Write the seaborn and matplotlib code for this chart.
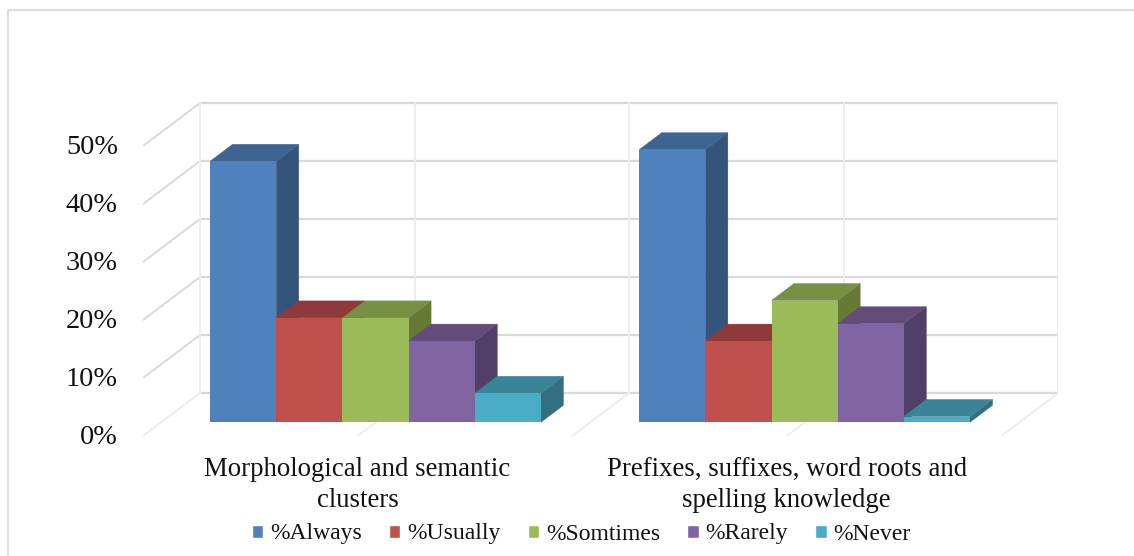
import matplotlib
matplotlib.use("Agg")
import matplotlib.pyplot as plt
from matplotlib.lines import Line2D
from matplotlib.patches import Polygon
import pandas as pd
import seaborn as sns

# Survey responses, in percent
categories = ["Morphological and semantic\nclusters",
              "Prefixes, suffixes, word roots and\nspelling knowledge"]
series_names = ["%Always", "%Usually", "%Somtimes", "%Rarely", "%Never"]
always = [45, 47]
usually = [18, 14]
sometimes = [18, 21]
rarely = [14, 17]
never = [5, 1]
tick_values = [0, 10, 20, 30, 40, 50]
tick_labels = ["0%", "10%", "20%", "30%", "40%", "50%"]

front_colors = ["#4F81BD", "#C0504D", "#9BBB59", "#8064A2", "#4BACC6"]
top_colors = ["#3E6491", "#8F3A3A", "#779043", "#634C7A", "#3A8498"]
side_colors = ["#34547C", "#8F3A3A", "#667A36", "#523F68", "#326F80"]

W, H = 1134, 556
DPI = 100

sns.set_style("white")
plt.rcParams["font.family"] = ["Liberation Serif", "DejaVu Serif"]

fig = plt.figure(figsize=(W / DPI, H / DPI), dpi=DPI, facecolor="white")

# Pixel layout of the axes; one data unit on y is one percentage point
left_px, right_px, top_px, bottom_px = 143, 1058, 90, 436
ax = fig.add_axes([left_px / W, 1 - bottom_px / H,
                   (right_px - left_px) / W, (bottom_px - top_px) / H])
ax.set_facecolor("none")

group_gap_px = 429.1
first_center_px = 375.5
y_scale = 5.8
bar_base_px = 422.3

frame = pd.DataFrame({
    "category": categories * 5,
    "series": [s for s in series_names for _ in categories],
    "value": always + usually + sometimes + rarely + never,
})

sns.barplot(data=frame, x="category", y="value", hue="series",
            order=categories, hue_order=series_names,
            palette=front_colors, width=0.771, gap=0, dodge=True,
            saturation=1, errorbar=None, ax=ax, legend=True, zorder=5)
ax.set_xlim((left_px - first_center_px) / group_gap_px,
            (right_px - first_center_px) / group_gap_px)
ax.set_ylim((bar_base_px - bottom_px) / y_scale, (bar_base_px - top_px) / y_scale)

# Oblique projection: offset of the bar depth and of the whole floor
bar_dx = 22.5 / group_gap_px
bar_dy = 17 / y_scale
floor_front_y = (bar_base_px - bottom_px) / y_scale
wall_y = (bar_base_px - 393) / y_scale
wall_dx = 57 / group_gap_px
wall_right = ax.get_xlim()[1]
wall_left = wall_right - (1058 - 200) / group_gap_px
floor_front_left = wall_left - wall_dx

# Back wall and left wall gridlines
grid_color = "#D9D9D9"
faint_color = "#EDEDED"
for v in tick_values:
    y = v + wall_y
    ax.plot([wall_left, wall_right], [y, y], color=grid_color, lw=1.6, zorder=1)
    ax.plot([floor_front_left, wall_left], [v + floor_front_y, y],
            color=grid_color if v else faint_color, lw=1.4, zorder=1)

# Vertical wall lines and floor lines, one every half category
for k in range(5):
    x = wall_left + k * 0.5
    ax.plot([x, x], [wall_y, tick_values[-1] + wall_y],
            color=faint_color, lw=1.4, zorder=1)
    if k:
        ax.plot([x - wall_dx, x], [floor_front_y, wall_y],
                color=faint_color, lw=1.4, zorder=1)

# Extrude every bar: painter's order from left to right
for i, container in enumerate(ax.containers):
    for bar in container:
        x0, x1 = bar.get_x(), bar.get_x() + bar.get_width()
        h = bar.get_height()
        bar.set_zorder(5 + i + 0.5)
        bar.set_linewidth(0)
        ax.add_patch(Polygon([(x1, 0), (x1 + bar_dx, bar_dy),
                              (x1 + bar_dx, h + bar_dy), (x1, h)],
                             closed=True, fc=side_colors[i], ec=side_colors[i],
                             lw=0.3, zorder=5 + i))
        ax.add_patch(Polygon([(x0, h), (x0 + bar_dx, h + bar_dy),
                              (x1 + bar_dx, h + bar_dy), (x1, h)],
                             closed=True, fc=top_colors[i], ec=top_colors[i],
                             lw=0.3, zorder=5 + i))

sns.despine(ax=ax, left=True, bottom=True, top=True, right=True)

# Value ticks sit on the front edge of the left wall,
# category labels are centred along the front edge of the floor
label_lift = 1 / y_scale
ax.set_yticks([v + floor_front_y + label_lift for v in tick_values], tick_labels,
              fontsize=20.3, color="#111111")
ax.set_xticks([floor_front_left + 0.5, floor_front_left + 1.5], categories,
              fontsize=19.3, color="#111111", linespacing=1.3)
ax.tick_params(axis="both", length=0)
ax.tick_params(axis="y", pad=18)
ax.tick_params(axis="x", pad=15.2)
ax.set_xlabel("")
ax.set_ylabel("")

handles, labels = ax.get_legend_handles_labels()
ax.legend(handles, labels, ncol=5, frameon=False, fontsize=17,
          loc="center", bbox_to_anchor=((581.5 - left_px) / (right_px - left_px),
                                        (bottom_px - 534) / (bottom_px - top_px)),
          handlelength=0.48, handleheight=0.48, handletextpad=0.3,
          columnspacing=1.14, labelcolor="#111111", borderpad=0)

# Chart area outline: open on the right and below
outline = "#DDDDDD"
frame_x, frame_y = 8 / W, 1 - 10 / H
fig.add_artist(Line2D([frame_x, frame_x], [0, frame_y], color=outline, lw=1.5,
                      transform=fig.transFigure, solid_capstyle="projecting"))
fig.add_artist(Line2D([frame_x, 1], [frame_y, frame_y], color=outline, lw=1.5,
                      transform=fig.transFigure, solid_capstyle="projecting"))

fig.savefig("out.png", dpi=DPI)
